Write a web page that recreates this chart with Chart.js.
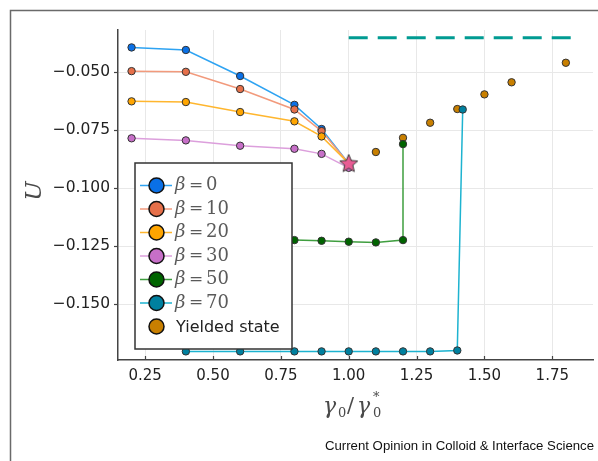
<!DOCTYPE html>
<html>
<head>
<meta charset="utf-8">
<script src="https://cdn.jsdelivr.net/npm/chart.js@4.4.0/dist/chart.umd.min.js"></script>
<style>
  html, body { margin: 0; padding: 0; background: #fff; }
  canvas { display: block; }
</style>
</head>
<body>
<canvas id="c" width="598" height="461"></canvas>
<script>
// values
const gammaLow = [0.2, 0.4, 0.6, 0.8, 0.9, 1.0];
const uBeta0  = [-0.0394, -0.0405, -0.0517, -0.0641, -0.0745, -0.0893];
const uBeta10 = [-0.0496, -0.0499, -0.0573, -0.0661, -0.0754, -0.0893];
const uBeta20 = [-0.0626, -0.0629, -0.0672, -0.0712, -0.0777, -0.0893];
const uBeta30 = [-0.0785, -0.0794, -0.0817, -0.0830, -0.0852, -0.0912];

const gammaBeta50 = [0.4, 0.6, 0.8, 0.9, 1.0, 1.1, 1.2, 1.2];
const uBeta50 = [-0.1222, -0.1222, -0.1223, -0.1226, -0.1230, -0.1233, -0.1223, -0.0810];

const gammaBeta70 = [0.4, 0.6, 0.8, 0.9, 1.0, 1.1, 1.2, 1.3, 1.4, 1.42];
const uBeta70 = [-0.1702, -0.1702, -0.1702, -0.1702, -0.1702, -0.1702, -0.1702, -0.1702, -0.1698, -0.0661];

const gammaYield = [1.1, 1.2, 1.3, 1.4, 1.5, 1.6, 1.8];
const uYield = [-0.0844, -0.0783, -0.0718, -0.0659, -0.0596, -0.0544, -0.0460];

const gammaStar = [1.0];
const uStar = [-0.0893];

const gammaDash = [1.0, 1.825];
const uDash = [-0.0352, -0.0352];

const betaLabels = ['0', '10', '20', '30', '50', '70'];
const xTicks = [0.25, 0.50, 0.75, 1.00, 1.25, 1.50, 1.75];
const yTicks = [-0.150, -0.125, -0.100, -0.075, -0.050];

// marker / line colours per beta
const markerColors = ['#0a70e6', '#e6704a', '#ffa500', '#c76fc8', '#006400', '#00809f'];
const lineColors   = ['#2ea3f2', '#f29a7c', '#ffb62e', '#dc9fdc', '#3f9e3f', '#1db3d0'];
const yieldColor = '#c87f00';
const axisColor = '#444';

const pts = (xs, ys) => xs.map((x, i) => ({ x, y: ys[i] }));

// filled five-point star used as point style
function makeStar(size) {
  const cv = document.createElement('canvas');
  cv.width = size; cv.height = size;
  const g = cv.getContext('2d');
  const cx = size / 2, cy = size / 2 + 0.5, ro = size / 2 - 1.5, ri = ro * 0.45;
  g.beginPath();
  for (let i = 0; i < 10; i++) {
    const r = i % 2 ? ri : ro;
    const a = -Math.PI / 2 + i * Math.PI / 5;
    g.lineTo(cx + r * Math.cos(a), cy + r * Math.sin(a));
  }
  g.closePath();
  g.fillStyle = '#e85c94';
  g.fill();
  g.strokeStyle = '#3a3a3a';
  g.lineWidth = 1;
  g.stroke();
  return cv;
}

const betaSeries = [
  [gammaLow, uBeta0], [gammaLow, uBeta10], [gammaLow, uBeta20],
  [gammaLow, uBeta30], [gammaBeta50, uBeta50], [gammaBeta70, uBeta70]
];

const datasets = [{
  label: 'Yielded state',
  data: pts(gammaYield, uYield),
  showLine: false,
  pointRadius: 3.7,
  pointBackgroundColor: yieldColor,
  pointBorderColor: '#333',
  pointBorderWidth: 1,
  order: 20
}];

betaSeries.forEach(([xs, ys], i) => {
  datasets.push({
    label: 'β = ' + betaLabels[i],
    data: pts(xs, ys),
    showLine: true,
    borderColor: lineColors[i],
    borderWidth: 1.5,
    pointRadius: 3.7,
    pointBackgroundColor: markerColors[i],
    pointBorderColor: '#333',
    pointBorderWidth: 1,
    order: 10 - i
  });
});

datasets.push({
  label: 'dashed',
  data: pts(gammaDash, uDash),
  showLine: true,
  borderColor: '#009b92',
  borderWidth: 3,
  borderDash: [19, 10],
  pointRadius: 0,
  order: 2
});

datasets.push({
  label: 'star',
  data: pts(gammaStar, uStar),
  showLine: false,
  pointStyle: makeStar(22),
  pointRadius: 11,
  order: 0
});

const overlayPlugin = {
  id: 'overlayPlugin',
  afterDraw(chart) {
    const { ctx, chartArea } = chart;
    const xs = chart.scales.x;
    ctx.save();

    // inward ticks on the x axis
    ctx.strokeStyle = axisColor;
    ctx.lineWidth = 1.2;
    xTicks.forEach(v => {
      const px = Math.round(xs.getPixelForValue(v)) + 0.5;
      ctx.beginPath();
      ctx.moveTo(px, chartArea.bottom);
      ctx.lineTo(px, chartArea.bottom - 4);
      ctx.stroke();
    });

    // outer frame (left and top edges visible)
    ctx.strokeStyle = '#6a6a6a';
    ctx.lineWidth = 1.5;
    ctx.beginPath();
    ctx.moveTo(10.5, 461);
    ctx.lineTo(10.5, 10.5);
    ctx.lineTo(598, 10.5);
    ctx.stroke();

    // axis titles
    ctx.fillStyle = '#4a4a4a';
    ctx.textBaseline = 'middle';
    ctx.save();
    ctx.translate(35, 191);
    ctx.rotate(-Math.PI / 2);
    ctx.textAlign = 'center';
    ctx.font = 'italic 23px "DejaVu Serif", serif';
    ctx.fillText('U', 0, 0);
    ctx.restore();

    ctx.textAlign = 'left';
    const ty = 407;
    ctx.font = 'italic 22px "DejaVu Serif", serif';
    ctx.fillText('γ', 323, ty);
    ctx.font = '13px "DejaVu Serif", serif';
    ctx.fillText('0', 338, ty + 7);
    ctx.font = '21px "DejaVu Serif", serif';
    ctx.fillText('/', 347, ty);
    ctx.font = 'italic 22px "DejaVu Serif", serif';
    ctx.fillText('γ', 357, ty);
    ctx.font = '13px "DejaVu Serif", serif';
    ctx.fillText('0', 373, ty + 7);
    ctx.fillText('*', 373, ty - 9);

    // legend box
    const lx = 135, ly = 163, lw = 157, lh = 186;
    ctx.fillStyle = '#fff';
    ctx.fillRect(lx, ly, lw, lh);
    ctx.strokeStyle = '#333';
    ctx.lineWidth = 1.5;
    ctx.strokeRect(lx, ly, lw, lh);

    const rowY = i => 185.5 + i * 23.5;
    betaLabels.forEach((b, i) => {
      const y = rowY(i);
      ctx.strokeStyle = lineColors[i];
      ctx.lineWidth = 1.5;
      ctx.beginPath();
      ctx.moveTo(140, y);
      ctx.lineTo(172, y);
      ctx.stroke();
      ctx.beginPath();
      ctx.arc(156.5, y, 7.5, 0, Math.PI * 2);
      ctx.fillStyle = markerColors[i];
      ctx.fill();
      ctx.strokeStyle = '#111';
      ctx.lineWidth = 1.5;
      ctx.stroke();

      ctx.fillStyle = '#5a5a5a';
      ctx.textAlign = 'left';
      ctx.font = 'italic 18px "DejaVu Serif", serif';
      ctx.fillText('β', 175, y);
      ctx.font = '17px "DejaVu Serif", serif';
      ctx.fillText('=', 189, y);
      ctx.font = '18px "DejaVu Serif", serif';
      ctx.fillText(b, 206, y);
    });

    const yy = rowY(6);
    ctx.beginPath();
    ctx.arc(156.5, yy, 7.5, 0, Math.PI * 2);
    ctx.fillStyle = yieldColor;
    ctx.fill();
    ctx.strokeStyle = '#111';
    ctx.lineWidth = 1.5;
    ctx.stroke();
    ctx.fillStyle = '#222';
    ctx.font = '16px "DejaVu Sans", sans-serif';
    ctx.fillText('Yielded state', 176, yy + 1);

    // source credit
    ctx.fillStyle = '#111';
    ctx.textAlign = 'right';
    ctx.font = '13.2px "Liberation Sans", Arial, sans-serif';
    ctx.fillText('Current Opinion in Colloid & Interface Science', 594, 446);

    ctx.restore();
  }
};

new Chart(document.getElementById('c'), {
  type: 'scatter',
  data: { datasets },
  options: {
    responsive: false,
    animation: false,
    layout: { autoPadding: false, padding: { top: 30, right: 5, left: 0, bottom: 0 } },
    plugins: { legend: { display: false }, tooltip: { enabled: false } },
    scales: {
      x: {
        type: 'linear',
        min: 0.15,
        max: 1.90,
        afterFit(scale) {
          scale.height = 101;
          scale.paddingLeft = 0;
          scale.paddingRight = 0;
        },
        afterBuildTicks(scale) { scale.ticks = xTicks.map(v => ({ value: v })); },
        grid: { color: '#e8e8e8', lineWidth: 1, drawTicks: false },
        border: { display: true, color: axisColor, width: 1.5 },
        ticks: {
          color: '#222',
          font: { family: '"DejaVu Sans", sans-serif', size: 15 },
          padding: 7,
          maxRotation: 0,
          callback: v => v.toFixed(2)
        }
      },
      y: {
        type: 'linear',
        min: -0.1739,
        max: -0.0319,
        afterFit(scale) {
          scale.width = 118;
          scale.paddingTop = 0;
          scale.paddingBottom = 0;
        },
        afterBuildTicks(scale) { scale.ticks = yTicks.map(v => ({ value: v })); },
        grid: { color: '#e8e8e8', lineWidth: 1, drawTicks: true, tickLength: 4, tickColor: axisColor, tickWidth: 1.2 },
        border: { display: true, color: axisColor, width: 1.5 },
        ticks: {
          color: '#222',
          font: { family: '"DejaVu Sans", sans-serif', size: 15.5 },
          padding: 4,
          callback: v => '\u2212' + Math.abs(v).toFixed(3)
        }
      }
    }
  },
  plugins: [overlayPlugin]
});
</script>
</body>
</html>
